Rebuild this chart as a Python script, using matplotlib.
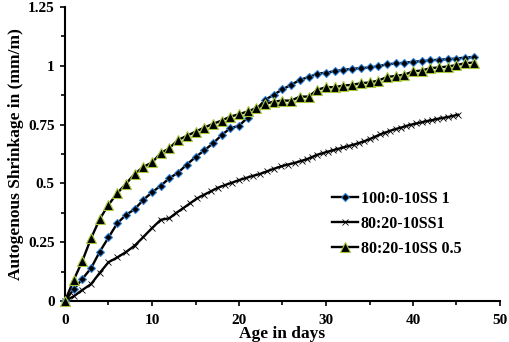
import matplotlib
matplotlib.use("Agg")
import matplotlib.pyplot as plt
from matplotlib.ticker import MultipleLocator

plt.rcParams['font.family'] = 'Liberation Serif'
plt.rcParams['font.weight'] = 'bold'

# Series 1: 100:0-10SS 1 (daily readings)
days_a = list(range(0, 48))
shrink_a = [0, 0.05, 0.094, 0.14, 0.21, 0.27, 0.33, 0.366, 0.39, 0.43,
            0.462, 0.49, 0.522, 0.546, 0.58, 0.612, 0.64, 0.67, 0.705, 0.735,
            0.745, 0.78, 0.815, 0.855, 0.877, 0.90, 0.919, 0.94, 0.952, 0.966,
            0.971, 0.977, 0.983, 0.987, 0.99, 0.993, 0.998, 1.006, 1.01, 1.013,
            1.017, 1.02, 1.023, 1.026, 1.028, 1.031, 1.035, 1.037]

# Series 2: 80:20-10SS1 (denser readings)
days_b = [0, 1, 2, 3, 4, 5, 6, 7, 8, 9, 10, 11, 12,
          12.8, 13.6, 14.4, 15.2, 16.0, 16.8, 17.6, 18.4, 19.2, 20.0,
          20.8, 21.6, 22.4, 23.2, 24.0, 24.8, 25.6, 26.4, 27.2,
          27.8, 28.4, 29.0, 29.6, 30.2, 30.8, 31.4, 32.0, 32.6, 33.2,
          33.8, 34.4, 35.0, 35.6, 36.2, 36.8, 37.4, 38.0, 38.6, 39.2,
          39.8, 40.4, 41.0, 41.6, 42.2, 42.8, 43.4, 44.0, 44.6, 45.2]
shrink_b = [0, 0.02, 0.047, 0.072, 0.12, 0.165, 0.185, 0.208, 0.235, 0.272, 0.31, 0.345, 0.352,
            0.375, 0.395, 0.416, 0.437, 0.452, 0.467, 0.482, 0.493, 0.503, 0.514,
            0.523, 0.532, 0.540, 0.551, 0.562, 0.572, 0.580, 0.587, 0.596,
            0.603, 0.612, 0.622, 0.628, 0.635, 0.641, 0.647, 0.653, 0.659, 0.665,
            0.672, 0.679, 0.688, 0.698, 0.708, 0.716, 0.724, 0.731, 0.737, 0.744,
            0.750, 0.755, 0.760, 0.765, 0.769, 0.774, 0.778, 0.782, 0.787, 0.792]

# Series 3: 80:20-10SS 0.5 (daily readings)
days_c = list(range(0, 48))
shrink_c = [0, 0.089, 0.171, 0.267, 0.349, 0.409, 0.458, 0.498, 0.54, 0.57,
            0.589, 0.628, 0.65, 0.685, 0.702, 0.72, 0.737, 0.753, 0.767, 0.784,
            0.794, 0.806, 0.82, 0.838, 0.848, 0.852, 0.852, 0.869, 0.869, 0.898,
            0.909, 0.909, 0.916, 0.919, 0.926, 0.929, 0.937, 0.952, 0.957, 0.962,
            0.976, 0.98, 0.99, 0.993, 0.997, 1.003, 1.011, 1.014]

labels = ['100:0-10SS 1', '80:20-10SS1', '80:20-10SS 0.5']
y_ticks = [0, 0.25, 0.5, 0.75, 1, 1.25]
y_tick_labels = ['0', '0.25', '0.5', '0.75', '1', '1.25']

fig = plt.figure(figsize=(5.1, 3.42), dpi=100)
ax = fig.add_axes([65 / 510, 1 - 301 / 342, 435 / 510, 294 / 342])

ax.plot(days_a, shrink_a, color='black', lw=1.7, marker='D', markersize=4.5,
        markerfacecolor='black', markeredgecolor='#2f7fd6', markeredgewidth=0.8,
        label=labels[0], clip_on=False, zorder=3)
ax.plot(days_b, shrink_b, color='black', lw=1.7, marker='x', markersize=5,
        markeredgewidth=0.6, label=labels[1], clip_on=False, zorder=2)
ax.plot(days_c, shrink_c, color='black', lw=1.7, marker='^', markersize=6.5,
        markerfacecolor='black', markeredgecolor='#a8c83c', markeredgewidth=0.8,
        label=labels[2], clip_on=False, zorder=4)

ax.set_xlim(0, 50)
ax.set_ylim(0, 1.25)
ax.xaxis.set_major_locator(MultipleLocator(10))
ax.xaxis.set_minor_locator(MultipleLocator(5))
ax.set_yticks(y_ticks)
ax.set_yticklabels(y_tick_labels)
ax.yaxis.set_minor_locator(MultipleLocator(0.125))
ax.tick_params(which='both', direction='out', width=1.2, labelsize=11, colors='black')
ax.tick_params(which='major', length=3.5)
ax.tick_params(which='minor', length=3)
ax.tick_params(axis='x', pad=6)
ax.tick_params(axis='y', pad=4)

for side in ['top', 'right']:
    ax.spines[side].set_visible(False)
for side in ['left', 'bottom']:
    ax.spines[side].set_linewidth(1.5)

ax.set_xlabel('Age in days', fontsize=12.5, fontweight='bold', labelpad=-1)
ax.set_ylabel('Autogenous Shrinkage in (mm/m)', fontsize=12.5, fontweight='bold', labelpad=3)

fig.legend(loc='upper left', bbox_to_anchor=(332 / 510, 1 - 191 / 342), frameon=False,
           borderpad=0, borderaxespad=0, handlelength=1.6,
           handletextpad=0.2, labelspacing=0.55, prop={'weight': 'bold', 'size': 11.5})

fig.savefig('out.png', dpi=100)
